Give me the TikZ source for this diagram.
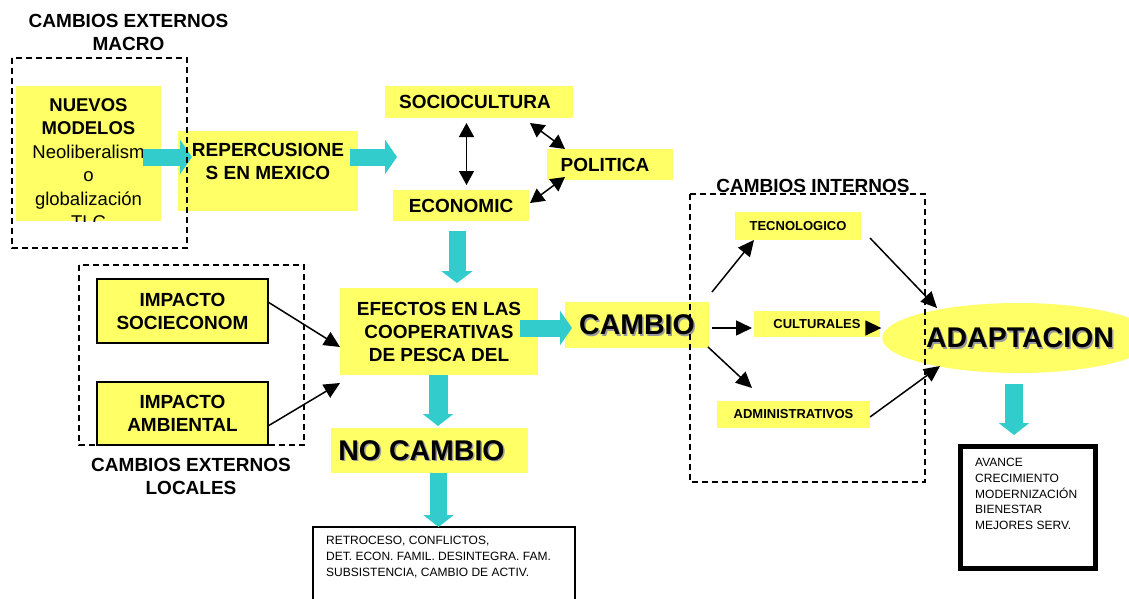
\documentclass[tikz,border=0pt]{standalone}
\usepackage{fontspec}
\setmainfont{Liberation Sans}
\usetikzlibrary{arrows.meta,calc,shapes.geometric}
\definecolor{yel}{HTML}{FFFF66}
\definecolor{cy}{HTML}{33CCCC}
\newcommand\shtext[1]{\smash{\makebox[0pt][l]{\raisebox{-1.5pt}{\hspace{1.5pt}\textcolor{black!40}{#1}}}}#1}
\begin{document}
\begin{tikzpicture}[x=1pt,y=-1pt,
  ybox/.style={fill=yel, inner sep=0pt, outer sep=0pt, align=center},
  bbox/.style={fill=yel, draw=black, line width=1.5pt, inner sep=0pt, outer sep=0pt, align=center},
  tb/.style={font=\fontsize{19}{23}\selectfont\bfseries},
  tbig/.style={font=\fontsize{28.5}{32}\selectfont\bfseries},
  tsm/.style={font=\fontsize{13}{15}\selectfont\bfseries},
  tr/.style={font=\fontsize{12}{15.6}\selectfont},
  dbox/.style={draw=black, dash pattern=on 6pt off 4pt, line width=1.5pt},
  cyarrow/.style={line width=17pt, draw=cy, -{Triangle[length=12pt,width=34pt]}},
  blk/.style={line width=1.5pt, -{Triangle[length=16pt,width=15pt]}},
  dbl/.style={line width=1.5pt, {Triangle[length=14pt,width=15pt]}-{Triangle[length=14pt,width=15pt]}}
]
\useasboundingbox (0,0) rectangle (1129,599);

% ---- titles
\node[tb, align=center] (tmacro) at (128.5,32) {CAMBIOS EXTERNOS\\MACRO};
\node[tb, align=center] (tlocal) at (191,476) {CAMBIOS EXTERNOS\\LOCALES};
\node[tb] (tint) at (813,186) {CAMBIOS INTERNOS};

% ---- boxes
\node[ybox, minimum width=145pt, minimum height=135pt] (nuevos) at (88.5,153.5) {};
\begin{scope}
  \clip (nuevos.north west) rectangle (nuevos.south east);
  \node[align=center, font=\fontsize{18.5}{23.5}\selectfont] (nuevostxt) at (88.5,163.5)
    {\bfseries NUEVOS\\\bfseries MODELOS\\Neoliberalism\\o\\globalización\\TLC};
\end{scope}

\node[ybox, minimum width=180pt, minimum height=80pt] (rep) at (268,171) {};
\node[tb, align=center] (reptxt) at (268,161.5) {REPERCUSIONE\\S EN MEXICO};

\node[ybox, tb, minimum width=188pt, minimum height=32pt] (socio) at (479,102) {\raisebox{-2pt}{SOCIOCULTURA}\hspace{8pt}};
\node[ybox, tb, minimum width=126pt, minimum height=31pt] (pol) at (610,164.5) {\raisebox{-1.5pt}{POLITICA}\hspace{10pt}};
\node[ybox, tb, minimum width=136pt, minimum height=31pt] (eco) at (461,205.5) {\raisebox{-2.5pt}{ECONOMIC}};

\node[ybox, tb, minimum width=198pt, minimum height=87pt] (efectos) at (439,331.5) {EFECTOS EN LAS\\COOPERATIVAS\\DE PESCA DEL};

\node[ybox, tbig, minimum width=144pt, minimum height=46pt] (cambio) at (637,325) {\shtext{CAMBIO}};
\node[ybox, tbig, minimum width=197pt, minimum height=45pt] (nocambio) at (429.5,450.5) {\shtext{NO CAMBIO}\hspace{16pt}};

\node[draw=black, line width=1.5pt, fill=white, anchor=north west, minimum width=262pt, minimum height=100pt, inner sep=0pt, outer sep=0pt] (retro) at (313,527) {};
\node[tr, align=left, anchor=west, inner sep=0pt] (retrotxt) at (326,557) {RETROCESO, CONFLICTOS,\\DET. ECON. FAMIL. DESINTEGRA. FAM.\\SUBSISTENCIA, CAMBIO DE ACTIV.};

\node[bbox, tb, minimum width=171pt, minimum height=64pt] (imp1) at (182.5,311) {IMPACTO\\SOCIECONOM};
\node[bbox, tb, minimum width=171pt, minimum height=63pt] (imp2) at (182.5,413.5) {IMPACTO\\AMBIENTAL};

\node[ybox, tsm, minimum width=126pt, minimum height=28pt] (tec) at (798,226) {TECNOLOGICO};
\node[ybox, tsm, minimum width=126pt, minimum height=26pt] (cul) at (817,324) {CULTURALES};
\node[ybox, tsm, minimum width=153pt, minimum height=27pt] (adm) at (793.5,414.5) {ADMINISTRATIVOS};

\node[ellipse, fill=yel, tbig, minimum width=222pt, minimum height=70pt, inner sep=0pt, outer sep=0pt] (adapt) at (1018,338) {\hspace{4pt}\shtext{ADAPTACION}};

\node[draw=black, line width=5pt, fill=white, minimum width=135pt, minimum height=122pt, inner sep=0pt, outer sep=0pt] (avance) at (1028,507.5) {};
\node[align=left, anchor=west, inner sep=0pt, font=\fontsize{12}{15.7}\selectfont] (avtxt) at (975,494) {AVANCE\\CRECIMIENTO\\MODERNIZACIÓN\\BIENESTAR\\MEJORES SERV.};

% ---- block arrows
\coordinate (free) at (397,157);
\draw[cyarrow] ($(nuevos.east)+(-18,3.5)$) -- ($(rep.west)+(14,-14)$);
\draw[cyarrow] ($(rep.east)+(-8,-14)$) -- (free);
\draw[cyarrow, -{Triangle[length=12pt,width=31pt]}] ($(eco.south)+(-4,10)$) -- ($(efectos.north)+(18,-5)$);
\draw[cyarrow] ($(efectos.east)+(-18,-3.5)$) -- ($(cambio.west)+(7,3)$);
\draw[cyarrow, line width=19pt, -{Triangle[length=12pt,width=30pt]}] ($(efectos.south)+(-1,0)$) -- ($(nocambio.north)+(8.5,-2)$);
\draw[cyarrow, -{Triangle[length=12pt,width=30pt]}] ($(nocambio.south)+(9,0)$) -- ($(retro.north)+(-5.5,0)$);
\draw[cyarrow, line width=18pt, -{Triangle[length=12pt,width=30pt]}] ($(adapt.south)+(-4,11)$) -- ($(avance.north)+(-14,-11.5)$);

% ---- black arrows
\draw[dbl] ($(socio.south)+(-12.5,5)$) -- ($(eco.north)+(5.5,-5)$);
\draw[dbl] ($(socio.south east)+(-43,5)$) -- ($(pol.north west)+(18,0)$);
\draw[dbl] ($(pol.south west)+(18,-3)$) -- ($(eco.east)+(1,-2.5)$);
\draw[blk] ($(imp1.east)+(0,-9)$) -- ($(efectos.west)+(0,15.5)$);
\draw[blk] ($(imp2.east)+(0,12.5)$) -- ($(efectos.south west)+(0,8)$);
\draw[blk] ($(cambio.north east)+(3,-10)$) -- ($(tec.south west)+(19,0)$);
\draw[blk] ($(cambio.east)+(3,3)$) -- ($(cul.west)+(-2,4)$);
\draw[blk] ($(cambio.south east)+(-1,-1)$) -- ($(adm.north west)+(35,-13)$);
\draw[blk] ($(tec.east)+(9,12)$) -- ($(adapt.center)+(-81,-30)$);
\draw[blk] ($(cul.east)+(0,4)$) -- ($(adapt.west)+(-1,-10)$);
\draw[blk] ($(adm.east)+(0,2.5)$) -- ($(adapt.center)+(-78,28)$);

% ---- dashed frames
\draw[dbox] (12,58) rectangle (187,248);
\draw[dbox] (79,265) rectangle (304,445);
\draw[dbox] (690,194) rectangle (925,482);
\end{tikzpicture}
\end{document}
